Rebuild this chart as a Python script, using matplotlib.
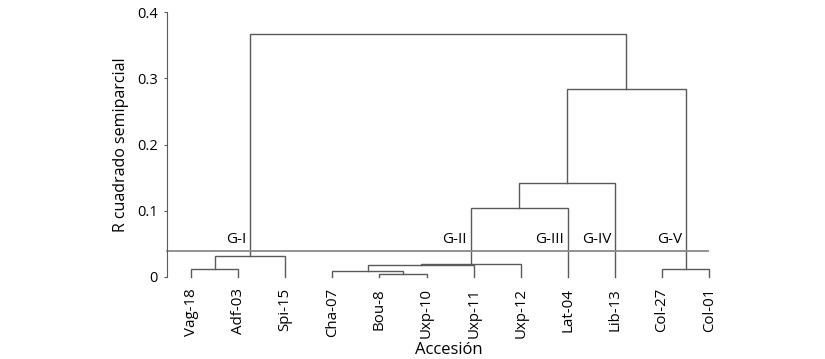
import matplotlib.pyplot as plt

plt.rcParams['font.family'] = ['Open Sans', 'DejaVu Sans']

# hojas del dendrograma (orden de izquierda a derecha)
accesiones = ["Vag-18", "Adf-03", "Spi-15", "Cha-07", "Bou-8", "Uxp-10",
              "Uxp-11", "Uxp-12", "Lat-04", "Lib-13", "Col-27", "Col-01"]

# uniones: (nodo izq, nodo der, altura); nodos nuevos numerados desde 12
uniones = [
    (0, 1, 0.012),     # 12
    (12, 2, 0.032),    # 13  G-I
    (4, 5, 0.005),     # 14
    (3, 14, 0.0095),   # 15
    (15, 6, 0.018),    # 16
    (16, 7, 0.020),    # 17  G-II
    (10, 11, 0.012),   # 18  G-V
    (17, 8, 0.104),    # 19
    (19, 9, 0.142),    # 20
    (20, 18, 0.284),   # 21
    (13, 21, 0.367),   # 22
]

corte = 0.04
grupos = ["G-I", "G-II", "G-III", "G-IV", "G-V"]
nodo_grupo = [13, 17, 8, 9, 18]

fig = plt.figure(figsize=(8.25, 3.59), dpi=100)
ax = fig.add_axes([167/825, 1 - 277/359, (720 - 167)/825, 265/359])

pos = {i: (float(i), 0.0) for i in range(len(accesiones))}
col = "#5a5a5a"
for k, (a, b, h) in enumerate(uniones):
    xa, ya = pos[a]
    xb, yb = pos[b]
    ax.plot([xa, xa, xb, xb], [ya, h, h, yb], color=col, lw=1.0,
            clip_on=False, solid_joinstyle='miter')
    pos[len(accesiones) + k] = ((xa + xb) / 2, h)

ax.plot([-0.51, 10.98], [corte, corte], color="#8a8a8a", lw=1.3, clip_on=False)

for g, n in zip(grupos, nodo_grupo):
    xg = pos[n][0]
    ax.text(xg - 0.08, corte + 0.006, g, ha="right", va="bottom", fontsize=11)

ax.set_xlim(-0.51, 11.23)
ax.set_ylim(0, 0.4)
ax.set_yticks([0, 0.1, 0.2, 0.3, 0.4])
ax.set_yticklabels(["0", "0.1", "0.2", "0.3", "0.4"], fontsize=10.5)
ax.set_xticks(range(len(accesiones)))
ax.set_xticklabels(accesiones, rotation=90, fontsize=10.8)
ax.tick_params(axis="x", length=0, pad=8)
ax.tick_params(axis="y", length=2.5, width=0.8, color="#5a5a5a", pad=4)
for s in ["top", "right", "bottom"]:
    ax.spines[s].set_visible(False)
ax.spines["left"].set_color("#5a5a5a")
ax.spines["left"].set_linewidth(0.8)

ax.set_ylabel("R cuadrado semiparcial", fontsize=11.5, labelpad=6)
ax.set_xlabel("Accesión", fontsize=12, va="center")
ax.xaxis.set_label_coords(0.51, -0.275)

fig.savefig("out.png", dpi=100)
